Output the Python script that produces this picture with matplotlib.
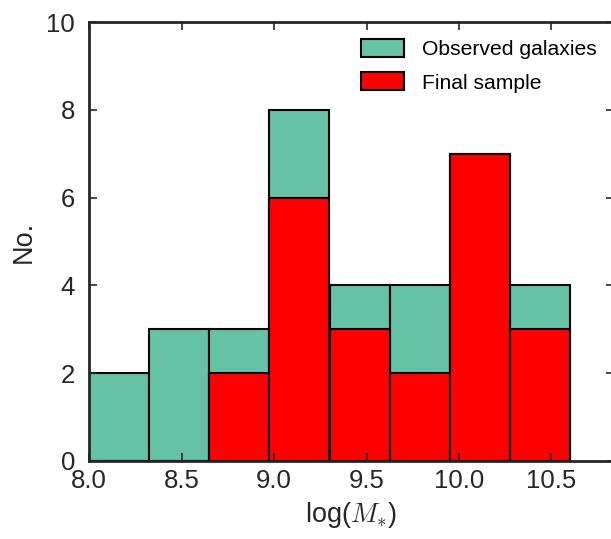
import numpy as np
import matplotlib
matplotlib.use("Agg")
import matplotlib.pyplot as plt

# Data
bin_lo = 8.0
bin_hi = 10.6
observed_counts = [2, 3, 3, 8, 4, 4, 7, 4]
final_counts = [0, 0, 2, 6, 3, 2, 7, 3]
xticks = [8.0, 8.5, 9.0, 9.5, 10.0, 10.5]
yticks = [0, 2, 4, 6, 8, 10]

plt.rcParams['font.family'] = ['Liberation Sans', 'DejaVu Sans']
plt.rcParams['mathtext.fontset'] = 'cm'

dark = '#262626'
fig = plt.figure(figsize=(6.11, 5.39), dpi=100)
ax = fig.add_axes([89/611, 78/539, (614-89)/611, (461-22)/539])

edges = np.linspace(bin_lo, bin_hi, len(observed_counts) + 1)
widths = np.diff(edges)
ax.bar(edges[:-1], observed_counts, width=widths, align='edge',
       color='#66c2a5', edgecolor='black', linewidth=1.5, label='Observed galaxies')
ax.bar(edges[:-1], final_counts, width=widths, align='edge',
       color='#ff0000', edgecolor='black', linewidth=1.5, label='Final sample')

ax.set_xlim(8.0, 8.0 + (614-89)/185.0)
ax.set_ylim(0, 10)
ax.set_xticks(xticks)
ax.set_xticklabels([f'{t:.1f}' for t in xticks])
ax.set_yticks(yticks)

for s in ax.spines.values():
    s.set_color(dark)
    s.set_linewidth(2)
ax.tick_params(direction='in', length=6, width=1.2, colors=dark,
               top=True, right=True, labelsize=18.5)
ax.tick_params(axis='y', pad=10)
ax.tick_params(axis='x', pad=6)

ax.set_xlabel(r'log($M_{*}$)', fontsize=19.5, color=dark, labelpad=5)
ax.set_ylabel('No.', fontsize=19.5, color=dark, labelpad=7)

leg = ax.legend(loc='upper right', bbox_to_anchor=(1.003, 1.005), frameon=False,
                fontsize=15.2, handlelength=2.05, handleheight=0.95,
                handletextpad=0.85, labelspacing=0.62)

fig.savefig('out.png', dpi=100)
